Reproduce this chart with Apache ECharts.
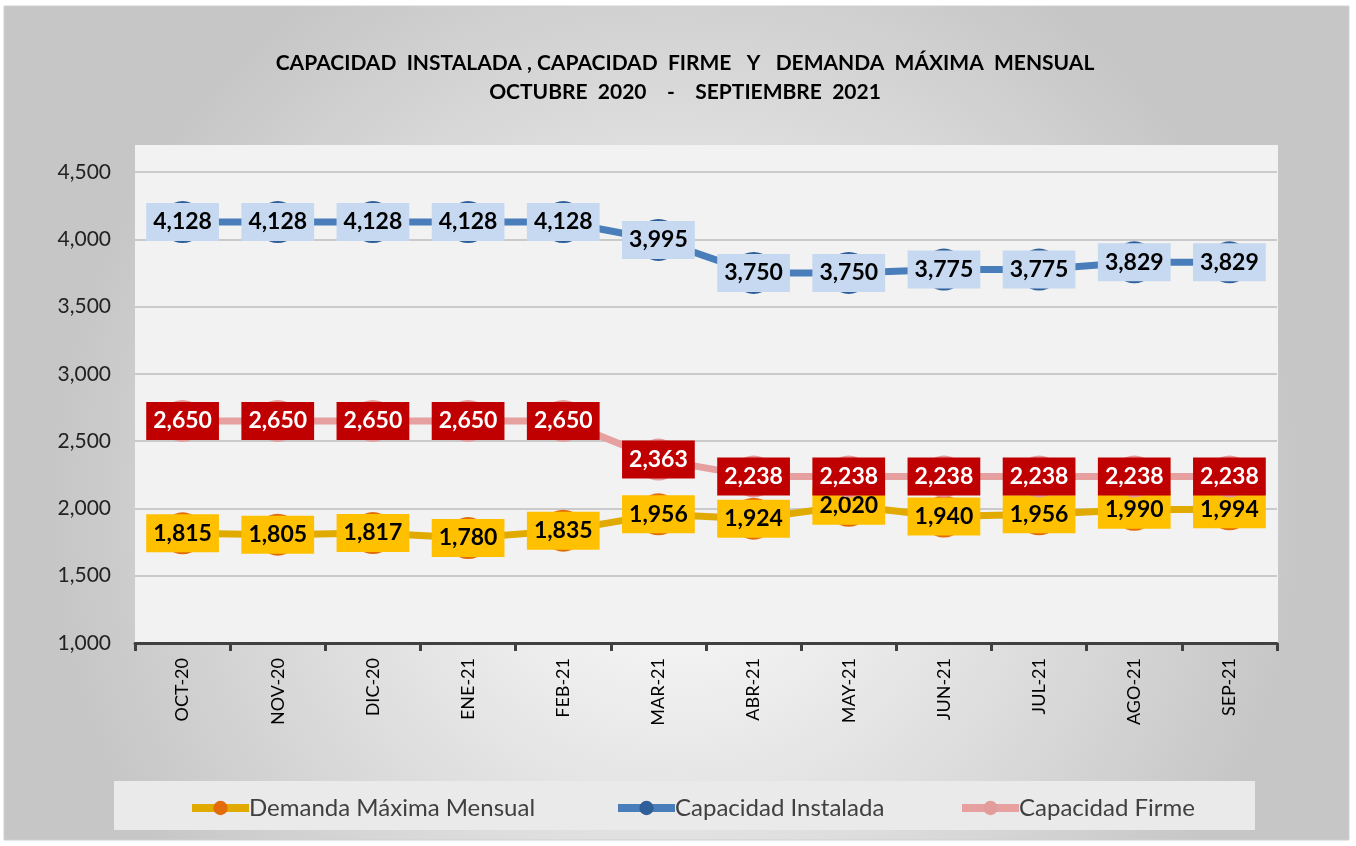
<!DOCTYPE html>
<html>
<head>
<meta charset="utf-8">
<script src="https://cdn.jsdelivr.net/npm/echarts@6/dist/echarts.min.js"></script>
<style>
  html, body { margin: 0; padding: 0; background: #fff; }
  #chart { width: 1356px; height: 846px; }
</style>
</head>
<body>
<div id="chart"></div>
<script>
// Meses del periodo
const months = ['OCT-20', 'NOV-20', 'DIC-20', 'ENE-21', 'FEB-21', 'MAR-21', 'ABR-21', 'MAY-21', 'JUN-21', 'JUL-21', 'AGO-21', 'SEP-21'];

// Valores de cada serie (MW)
const demandaMaxima = [1815, 1805, 1817, 1780, 1835, 1956, 1924, 2020, 1940, 1956, 1990, 1994];
const capacidadInstalada = [4128, 4128, 4128, 4128, 4128, 3995, 3750, 3750, 3775, 3775, 3829, 3829];
const capacidadFirme = [2650, 2650, 2650, 2650, 2650, 2363, 2238, 2238, 2238, 2238, 2238, 2238];

// Eje Y
const yMin = 1000;
const yMax = 4500;
const yStep = 500;

const FONT = 'Lato';
const fmt = (v) => v.toLocaleString('en-US');

const makeLabel = (bg, color) => ({
  show: true,
  position: 'inside',
  formatter: (p) => fmt(p.value),
  backgroundColor: bg,
  color: color,
  fontFamily: FONT,
  fontWeight: 'bold',
  fontSize: 23,
  padding: [9, 7, 6, 7],
});

const makeLegend = (name, left) => ({
  data: [name],
  left: left,
  top: 791,
  itemWidth: 57,
  itemHeight: 18,
  itemGap: 0,
  lineStyle: { width: 8 },
  textStyle: { fontFamily: FONT, fontSize: 24, color: '#404040', padding: [0, 0, 0, -5] },
});

const chart = echarts.init(document.getElementById('chart'));

const option = {
  backgroundColor: '#ffffff',
  animation: false,
  graphic: [
    {
      type: 'rect',
      z: -10,
      shape: { x: 4, y: 6, width: 1345, height: 834 },
      style: {
        fill: {
          type: 'radial', x: 0.5, y: 0.6, r: 0.75,
          colorStops: [
            { offset: 0, color: '#ffffff' },
            { offset: 1, color: '#c6c6c6' },
          ],
        },
        stroke: '#d0d0d0',
        lineWidth: 1,
      },
    },
    {
      type: 'rect',
      z: -9,
      shape: { x: 135, y: 145, width: 1143, height: 498 },
      style: { fill: '#f2f2f2' },
    },
    {
      type: 'rect',
      z: -9,
      shape: { x: 114, y: 781, width: 1141, height: 49 },
      style: { fill: '#eaeaea' },
    },
  ],
  title: {
    text: 'CAPACIDAD  INSTALADA , CAPACIDAD  FIRME   Y   DEMANDA  MÁXIMA  MENSUAL\nOCTUBRE  2020    -    SEPTIEMBRE  2021',
    left: 680,
    textAlign: 'center',
    top: 44,
    textStyle: {
      fontFamily: FONT,
      fontWeight: 'bold',
      fontSize: 21,
      lineHeight: 29,
      color: '#000',
    },
  },
  legend: [
    makeLegend('Demanda Máxima Mensual', 183),
    makeLegend('Capacidad Instalada', 609),
    makeLegend('Capacidad Firme', 953),
  ],
  grid: { left: 135, right: 79, top: 172, bottom: 203 },
  xAxis: {
    type: 'category',
    data: months,
    boundaryGap: true,
    axisLine: { lineStyle: { color: '#404040', width: 3 } },
    axisTick: { show: true, length: 8, lineStyle: { color: '#404040', width: 3 } },
    axisLabel: {
      rotate: 90,
      margin: 15,
      fontFamily: FONT,
      fontSize: 18,
      color: '#000',
    },
  },
  yAxis: {
    type: 'value',
    min: yMin,
    max: yMax,
    interval: yStep,
    axisLine: { show: false },
    axisTick: { show: false },
    axisLabel: {
      margin: 24,
      fontFamily: FONT,
      fontSize: 21,
      color: '#222',
      formatter: (v) => fmt(v),
    },
    splitLine: { lineStyle: { color: '#bdbdbd', width: 1.5 } },
  },
  series: [
    {
      name: 'Demanda Máxima Mensual',
      type: 'line',
      data: demandaMaxima,
      symbol: 'circle',
      symbolSize: 42,
      lineStyle: { color: '#e0aa00', width: 7 },
      itemStyle: { color: '#e36c0a' },
      label: makeLabel('#ffc000', '#000'),
      z: 2,
    },
    {
      name: 'Capacidad Instalada',
      type: 'line',
      data: capacidadInstalada,
      symbol: 'circle',
      symbolSize: 42,
      lineStyle: { color: '#4a7ebb', width: 7 },
      itemStyle: { color: '#2f5f98' },
      label: makeLabel('#c6d9f1', '#000'),
      z: 3,
    },
    {
      name: 'Capacidad Firme',
      type: 'line',
      data: capacidadFirme,
      symbol: 'circle',
      symbolSize: 42,
      lineStyle: { color: '#e6a0a0', width: 7 },
      itemStyle: { color: '#e39c9c' },
      label: makeLabel('#c00000', '#fff'),
      z: 4,
    },
  ],
};

chart.setOption(option);
window.addEventListener('resize', () => chart.resize());
</script>
</body>
</html>
